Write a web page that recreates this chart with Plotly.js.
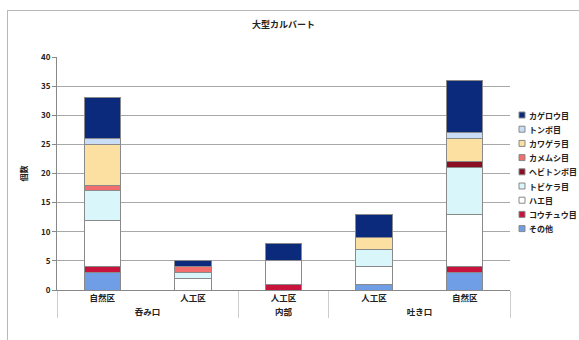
<!DOCTYPE html>
<html>
<head>
<meta charset="utf-8">
<script src="https://cdn.plot.ly/plotly-3.0.1.min.js"></script>
<style>
html,body{margin:0;padding:0;background:#fff;}
#wrap{position:relative;width:579px;height:340px;overflow:hidden;}
#chart{width:579px;height:340px;}
#frame{position:absolute;left:7px;top:10px;width:600px;height:400px;border-left:1px solid #b8b8b8;border-top:1px solid #b8b8b8;pointer-events:none;}
</style>
</head>
<body>
<div id="wrap"><div id="chart"></div><div id="frame"></div></div>
<script>
// Categories (two-level). The zero-width space keeps the last 自然区 after 人工区 in Plotly's multicategory ordering.
const groups = ['呑み口', '呑み口', '内部', '吐き口', '吐き口'];
const sites  = ['自然区', '人工区', '人工区', '人工区', '自然区\u200b'];

// Series in stacking order (bottom -> top)
const seriesNames = ['その他', 'コウチュウ目', 'ハエ目', 'トビケラ目', 'ヘビトンボ目', 'カメムシ目', 'カワゲラ目', 'トンボ目', 'カゲロウ目'];
const sonota   = [3, 0, 0, 1, 3];
const kouchuu  = [1, 0, 1, 0, 1];
const hae      = [8, 2, 4, 3, 9];
const tobikera = [5, 1, 0, 3, 8];
const hebitonbo= [0, 0, 0, 0, 1];
const kamemushi= [1, 1, 0, 0, 0];
const kawagera = [7, 0, 0, 2, 4];
const tonbo    = [1, 0, 0, 0, 1];
const kagerou  = [7, 1, 3, 4, 9];
const seriesValues = [sonota, kouchuu, hae, tobikera, hebitonbo, kamemushi, kawagera, tonbo, kagerou];
const seriesColors = ['#6f9de6', '#c8143c', '#ffffff', '#d9f6fb', '#8a0f22', '#f26d6d', '#fbe0a2', '#c9def6', '#0c2a7c'];

const yTicks = [0, 5, 10, 15, 20, 25, 30, 35, 40];

const FONT = '"Noto Sans CJK JP", "Noto Sans", sans-serif';

const traces = seriesNames.map((name, i) => ({
  type: 'bar',
  name: name,
  x: [groups, sites],
  y: seriesValues[i],
  marker: {color: seriesColors[i], line: {color: '#8a8a8a', width: 1}},
  showlegend: false
}));

// Custom compact legend built from the series arrays (top item = last series)
const plotTop = 57, plotBottom = 290, plotLeft = 57, plotRight = 510;
const ph = plotBottom - plotTop, pw = plotRight - plotLeft;
const legendTop = 115, legendStep = 14.2, legendX = 519;
const annotations = [];
const shapes = [];
seriesNames.slice().reverse().forEach((name, k) => {
  const i = seriesNames.length - 1 - k;
  const yc = legendTop + k * legendStep;
  const yp = (plotBottom - yc) / ph;
  annotations.push({
    xref: 'paper', yref: 'paper',
    x: (legendX + 8 - plotLeft) / pw, y: yp,
    xanchor: 'left', yanchor: 'middle',
    text: name, showarrow: false,
    font: {family: FONT, size: 8, color: '#222', weight: 'bold'}
  });
  shapes.push({
    type: 'rect', xref: 'paper', yref: 'paper',
    x0: (legendX - plotLeft) / pw, x1: (legendX + 6 - plotLeft) / pw,
    y0: yp - 3 / ph, y1: yp + 3 / ph,
    fillcolor: seriesColors[i], line: {color: '#888', width: 1}
  });
});

const layout = {
  width: 579, height: 340,
  margin: {l: plotLeft, r: 579 - plotRight, t: plotTop, b: 340 - plotBottom, pad: 0},
  paper_bgcolor: '#fff', plot_bgcolor: '#fff',
  barmode: 'stack',
  bargap: 0.6,
  showlegend: false,
  font: {family: FONT, size: 8, color: '#222'},
  title: {text: '<b>大型カルバート</b>', x: 0.5, xref: 'paper', xanchor: 'center', y: 0.935, yref: 'container', font: {family: FONT, size: 9, color: '#222'}},
  xaxis: {
    type: 'multicategory',
    showgrid: false,
    showline: true, linecolor: '#888', linewidth: 1,
    ticks: 'outside', tickcolor: '#ccc', ticklen: 0,
    showdividers: true, dividercolor: '#ccc', dividerwidth: 1,
    tickfont: {family: FONT, size: 8.5, color: '#222', weight: 'bold'}
  },
  yaxis: {
    range: [0, 40],
    tickvals: yTicks,
    ticktext: yTicks.map(String),
    showgrid: true, gridcolor: '#a8a8a8', gridwidth: 1,
    showline: true, linecolor: '#888', linewidth: 1,
    ticks: 'outside', tickcolor: '#888', ticklen: 4,
    zeroline: false,
    tickfont: {family: FONT, size: 8, color: '#222', weight: 'bold'},
    title: {text: '<b>個数</b>', standoff: 12, font: {family: FONT, size: 8, color: '#222'}}
  },
  annotations: annotations,
  shapes: shapes
};

Plotly.newPlot('chart', traces, layout, {displayModeBar: false, staticPlot: true});
</script>
</body>
</html>
